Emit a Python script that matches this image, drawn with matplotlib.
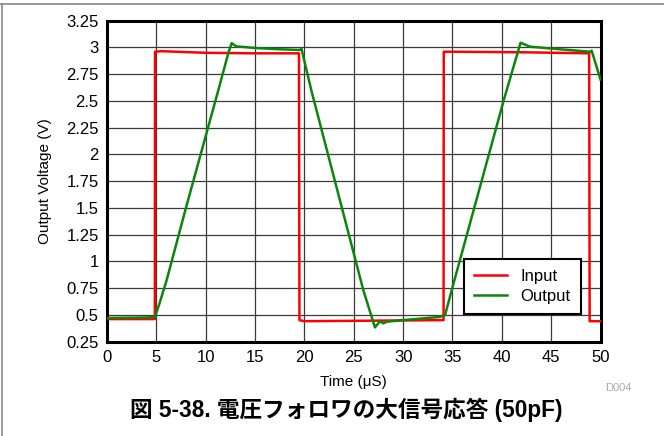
import matplotlib
matplotlib.use("Agg")
import matplotlib.pyplot as plt
from matplotlib.lines import Line2D

plt.rcParams['font.family'] = ['Liberation Sans', 'DejaVu Sans']

# Input square wave (time in µs, voltage in V)
input_t = [0, 4.85, 4.87, 5.5, 10, 15, 19.45, 19.5, 20, 27, 34.1, 34.12, 35, 42, 48.85, 48.9, 50]
input_v = [0.46, 0.46, 2.96, 2.965, 2.95, 2.945, 2.945, 0.45, 0.44, 0.445, 0.45, 2.96, 2.96, 2.955, 2.945, 0.44, 0.44]

# Output (voltage follower, 50 pF)
output_t = [0, 4.0, 4.86, 5.3, 6.05, 8, 11.28, 12.3, 12.63, 13.1, 15, 17, 19.55, 19.7, 20.7,
            25.97, 27.15, 27.66, 28.0, 28.35, 30, 33.7, 34.25, 35.1, 40.2, 41.6, 41.9, 42.86,
            45, 48.94, 49.1, 50]
output_v = [0.47, 0.475, 0.48, 0.6, 0.825, 1.5, 2.6, 2.95, 3.04, 3.01, 2.995, 2.985, 2.976, 2.99, 2.6,
            0.73, 0.382, 0.44, 0.42, 0.435, 0.45, 0.48, 0.497, 0.79, 2.508, 2.95, 3.044, 3.007,
            2.99, 2.96, 2.97, 2.7]

x_ticks = [0, 5, 10, 15, 20, 25, 30, 35, 40, 45, 50]
y_ticks = [0.25, 0.5, 0.75, 1, 1.25, 1.5, 1.75, 2, 2.25, 2.5, 2.75, 3, 3.25]
y_tick_labels = ['0.25', '0.5', '0.75', '1', '1.25', '1.5', '1.75', '2', '2.25', '2.5', '2.75', '3', '3.25']

fig = plt.figure(figsize=(6.64, 4.36), dpi=100)
ax = fig.add_axes([0.1611, 0.2167, 0.7433, 0.7358])

ax.plot(input_t, input_v, color='#ff0000', lw=1.8, label='Input', zorder=3)
ax.plot(output_t, output_v, color='#0a860a', lw=1.8, label='Output', zorder=4)

ax.set_xlim(0, 50)
ax.set_ylim(0.25, 3.25)
ax.set_xticks(x_ticks)
ax.set_xticklabels([str(v) for v in x_ticks])
ax.set_yticks(y_ticks)
ax.set_yticklabels(y_tick_labels)
ax.tick_params(length=0, labelsize=12, pad=6)
ax.grid(True, color='#3a3a3a', lw=0.9)
ax.set_axisbelow(True)
for s in ax.spines.values():
    s.set_linewidth(2.2)
    s.set_color('black')

ax.set_xlabel('Time (μS)', fontsize=11, labelpad=7)
ax.set_ylabel('Output Voltage (V)', fontsize=11, labelpad=10)

leg = ax.legend(loc='lower right', bbox_to_anchor=(0.977, 0.06), fontsize=12,
                fancybox=False, framealpha=1, edgecolor='black', borderpad=0.6,
                handlelength=2.0, handletextpad=0.8, labelspacing=0.3)
leg.get_frame().set_linewidth(1.5)

fig.text(0.931, 0.11, 'D004', fontsize=8, color='#aaaaaa', ha='center', va='center')
fig.text(0.522, 0.06, '図 5-38. 電圧フォロワの大信号応答 (50pF)', fontsize=16.3, fontweight='bold',
         ha='center', va='center', family=['Liberation Sans', 'Noto Sans CJK JP'])

# page frame lines
fig.add_artist(Line2D([0, 1], [1 - 4.5 / 436, 1 - 4.5 / 436], color='#888888', lw=1.2, transform=fig.transFigure))
fig.add_artist(Line2D([1.5 / 664, 1.5 / 664], [0, 1 - 4.5 / 436], color='#888888', lw=1.2, transform=fig.transFigure))

fig.savefig('out.png', dpi=100)
